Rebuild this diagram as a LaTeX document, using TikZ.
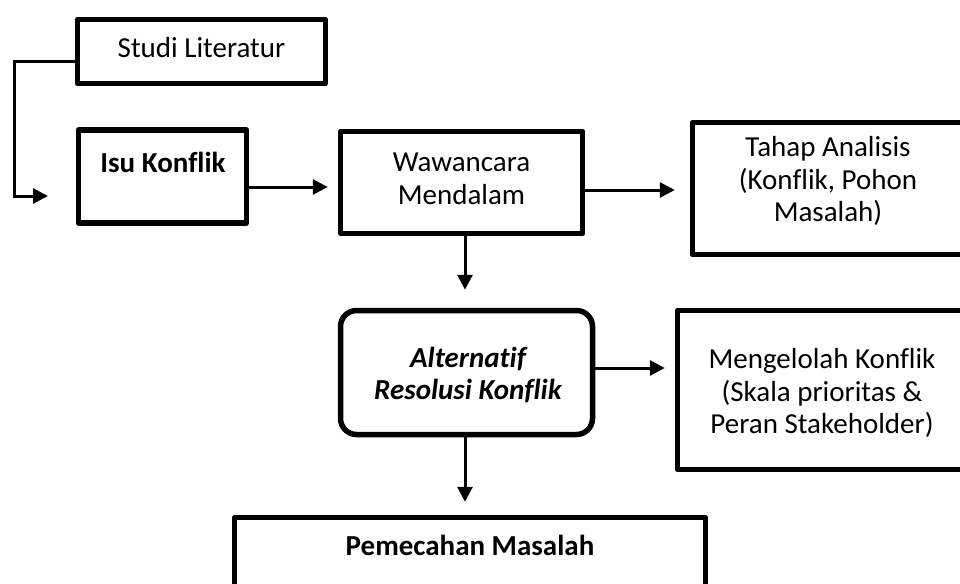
\documentclass[tikz,border=0pt]{standalone}
\usepackage{fontspec}
\setmainfont{Carlito}[Ligatures=NoCommon]
\usetikzlibrary{arrows.meta}

\tikzset{
  box/.style={draw=black, line width=5.5pt, fill=white, inner sep=0pt, line join=round},
  roundbox/.style={box, rounded corners=16pt},
  txt/.style={align=center, inner sep=0pt, font=\fontsize{29}{32.5}\selectfont},
  link/.style={draw=black, line width=3pt, -{Triangle[length=15pt,width=15pt]}},
}

\begin{document}
\begin{tikzpicture}[x=1pt, y=-1pt]
  \useasboundingbox (0,0) rectangle (960,583);
  \clip (0,0) rectangle (960,583);

  % boxes (line-centre sizes)
  \node[box, minimum width=248pt, minimum height=64pt] (studi) at (201.5,51.5) {};
  \node[box, minimum width=168pt, minimum height=93pt] (isu) at (162.5,176.5) {};
  \node[box, minimum width=242pt, minimum height=102pt] (waw) at (461.5,182.5) {};
  \node[box, minimum width=273pt, minimum height=132pt] (tahap) at (829,188.5) {};
  \node[roundbox, minimum width=252pt, minimum height=124pt] (alt) at (466.5,372.5) {};
  \node[box, minimum width=289pt, minimum height=159pt] (kelola) at (822,390) {};
  \node[box, minimum width=471pt, minimum height=100pt] (pem) at (470,567.5) {};

  % texts
  \node[txt, anchor=base] (tstudi) at (201.5,58) {Studi Literatur};
  \node[txt, anchor=base, font=\fontsize{29}{32.5}\selectfont\bfseries] (tisu) at (163,172) {Isu Konflik};
  \node[txt] (twaw) at (461.5,179) {Wawancara\\Mendalam};
  \node[txt] (ttahap) at (828,181) {Tahap Analisis\\(Konflik, Pohon\\Masalah)};
  \node[txt, font=\fontsize{29}{32.5}\selectfont\bfseries\itshape] (talt) at (468,375) {Alternatif\\Resolusi Konflik};
  \node[txt] (tkelola) at (822,393) {Mengelolah Konflik\\(Skala prioritas \&\\Peran Stakeholder)};
  \node[txt, anchor=base, font=\fontsize{29}{32.5}\selectfont\bfseries] (tpem) at (470,555) {Pemecahan Masalah};

  % connectors
  \coordinate (bend1) at (14,62);
  \coordinate (bend2) at (14,196);
  \coordinate (inEnd) at (48,196);
  \draw[link] (studi.west |- bend1) -- (bend1) -- (bend2) -- (inEnd);
  \draw[link, shorten >=10pt] (isu.east |- 0,187) -- (waw.west |- 0,187);
  \draw[link, shorten >=15pt] (waw.east |- 0,190) -- (tahap.west |- 0,190);
  \draw[link, shorten >=18pt] (waw.south -| 465,0) -- (alt.north -| 465,0);
  \draw[link, shorten >=10pt] (alt.east |- 0,368) -- (kelola.west |- 0,368);
  \draw[link, shorten >=13pt] (alt.south -| 465,0) -- (pem.north -| 465,0);
\end{tikzpicture}
\end{document}
